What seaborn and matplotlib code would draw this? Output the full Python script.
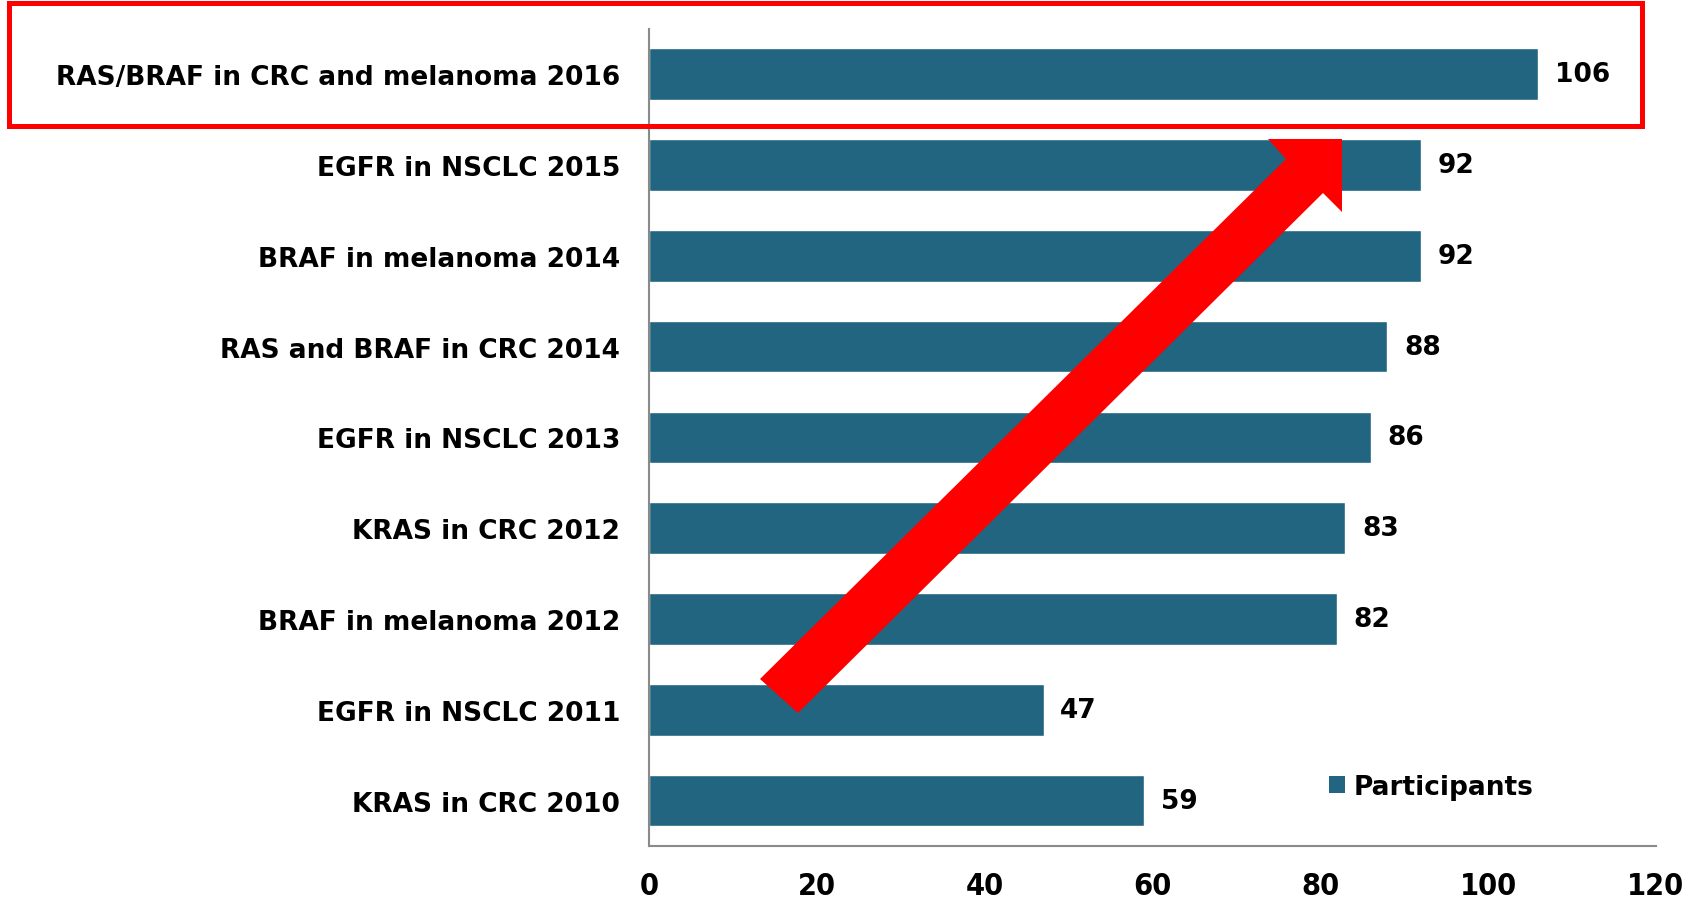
import matplotlib
matplotlib.use("Agg")
import matplotlib.pyplot as plt
import seaborn as sns
from matplotlib.patches import Patch, Rectangle, Polygon

# du lieu
categories = [
    'RAS/BRAF in CRC and melanoma 2016',
    'EGFR in NSCLC 2015',
    'BRAF in melanoma 2014',
    'RAS and BRAF in CRC 2014',
    'EGFR in NSCLC 2013',
    'KRAS in CRC 2012',
    'BRAF in melanoma 2012',
    'EGFR in NSCLC 2011',
    'KRAS in CRC 2010',
]
participants = [106, 92, 92, 88, 86, 83, 82, 47, 59]
xticks = [0, 20, 40, 60, 80, 100, 120]

bar_color = '#216580'
W, H = 1700, 903

sns.set_style("white")
plt.rcParams['font.family'] = ['DejaVu Sans']
plt.rcParams['text.color'] = 'black'
plt.rcParams['xtick.color'] = 'black'
plt.rcParams['ytick.color'] = 'black'

fig = plt.figure(figsize=(W / 100, H / 100), dpi=100)
ax = fig.add_axes([0.382, 0.062, 0.974 - 0.382, 0.967 - 0.062])

sns.barplot(x=participants, y=categories, color=bar_color, width=0.57,
            saturation=1, ax=ax)

ax.set_xlim(0, 120)
ax.set_ylim(8.5, -0.5)
ax.set_xticks(xticks)
ax.set_xticklabels([str(t) for t in xticks], fontsize=22, fontweight='bold',
                   fontstretch='condensed')
ax.set_yticks(range(len(categories)))
ax.set_yticklabels(categories, fontsize=19, fontweight='bold')
ax.tick_params(axis='x', length=0, pad=18)
ax.tick_params(axis='y', length=0, pad=21)
ax.set_xlabel('')
ax.set_ylabel('')

for s in ['top', 'right']:
    ax.spines[s].set_visible(False)
for s in ['left', 'bottom']:
    ax.spines[s].set_color('#8a8a8a')
    ax.spines[s].set_linewidth(1.5)

ax.bar_label(ax.containers[0], labels=[str(v) for v in participants],
             padding=12, fontsize=19, fontweight='bold', color='black')

# legend
handle = Patch(facecolor=bar_color, edgecolor='none')
fig.legend(handles=[handle], labels=['Participants'], loc='center left',
           bbox_to_anchor=(1329 / W, 1 - 788 / H), frameon=False,
           handlelength=0.6, handleheight=0.6, handletextpad=0.35,
           borderpad=0, borderaxespad=0,
           prop={'size': 19, 'weight': 'bold'})

# khung do quanh hang dau tien
def px(x, y):
    return (x / W, 1 - y / H)

x0, y0 = px(9, 127)
x1, y1 = px(1642, 4)
fig.patches.append(Rectangle((x0, y0), x1 - x0, y1 - y0, transform=fig.transFigure,
                             fill=False, edgecolor='#ff0000', linewidth=3.6,
                             zorder=10))

# mui ten do
arrow_pts = [(760, 680), (1286, 160), (1268, 140), (1342, 140),
             (1342, 213), (1323, 194), (798, 714)]
fig.patches.append(Polygon([px(x, y) for x, y in arrow_pts], closed=True,
                           transform=fig.transFigure, facecolor='#ff0000',
                           edgecolor='none', zorder=10))

plt.savefig('out.png', dpi=100)
